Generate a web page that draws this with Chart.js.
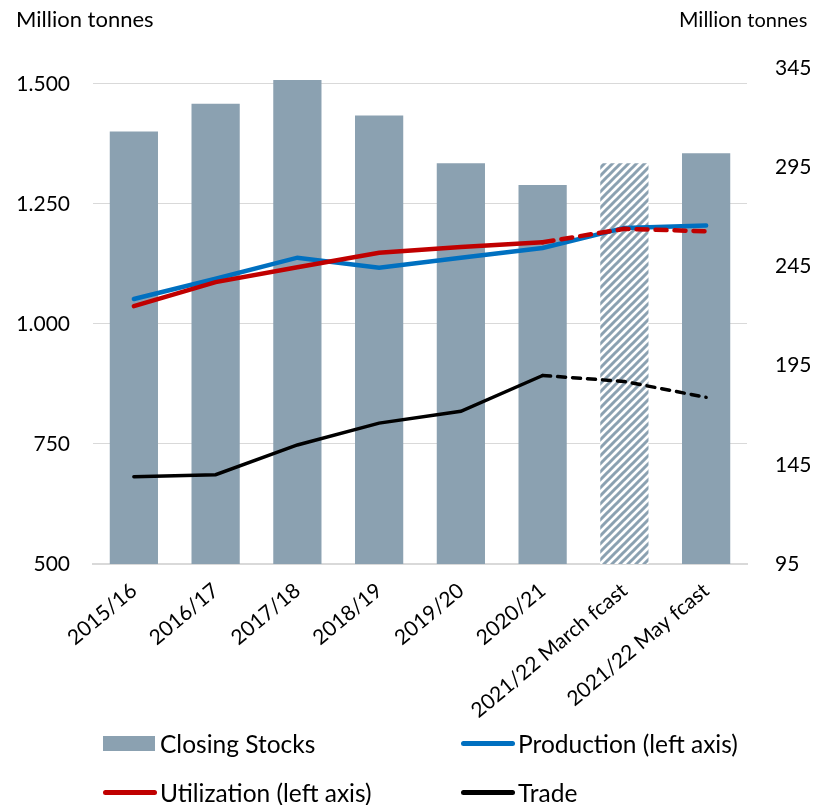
<!DOCTYPE html>
<html>
<head>
<meta charset="utf-8">
<script src="https://cdn.jsdelivr.net/npm/chart.js@4/dist/chart.umd.min.js"></script>
<style>
    body { margin: 0; background: #fff; font-family: Lato, 'Open Sans', sans-serif; color: #000; }
    #wrap { position: relative; width: 815px; height: 805px; }
    #chart { position: absolute; left: 0; top: 0; }
    .title { position: absolute; top: 5px; font-size: 22px; white-space: nowrap; }
    .legend-item { position: absolute; font-size: 24.5px; white-space: nowrap; line-height: 28px; }
    .legend-item .key { position: absolute; left: -57px; }
</style>
</head>
<body>
<div id="wrap">
    <canvas id="chart" width="815" height="805"></canvas>
    <div class="title" style="left:16px;">Million tonnes</div>
    <div class="title" style="left:679px; top:6px; font-size:21px;">Million <span style="font-size:20px;">tonnes</span></div>

    <div class="legend-item" style="left:160px; top:730px;"><span class="key" style="top:6px; width:52px; height:15px; background:#8ba1b1;"></span>Closing Stocks</div>
    <div class="legend-item" style="left:518px; top:730px;"><span class="key" style="top:11px; width:54px; height:5px; border-radius:3px; background:#0070c0;"></span>Production (left axis)</div>
    <div class="legend-item" style="left:160px; top:779px;"><span class="key" style="top:11px; width:54px; height:5px; border-radius:3px; background:#c00000;"></span>Utilization (left axis)</div>
    <div class="legend-item" style="left:518px; top:779px;"><span class="key" style="top:11px; width:54px; height:5px; border-radius:3px; background:#000;"></span>Trade</div>
</div>
<script>
// marketing years on the x axis
const seasons = ['2015/16', '2016/17', '2017/18', '2018/19', '2019/20', '2020/21', '2021/22 March fcast', '2021/22 May fcast'];

// right axis (million tonnes)
const closingStocks = [313, 327, 339, 321, 297, 286, 297, 302];
const trade = [139, 140, 155, 166, 172, 190, 187, 179];

// left axis (million tonnes)
const production = [1052, 1094, 1138, 1117, 1138, 1158, 1200, 1205];
const utilization = [1037, 1087, 1118, 1148, 1160, 1170, 1198, 1193];

const leftTicks = [500, 750, 1000, 1250, 1500];
const rightTicks = [95, 145, 195, 245, 295, 345];

const firstForecast = 5; // segments after 2020/21 are dashed

document.addEventListener('DOMContentLoaded', function() {
    const ctx = document.getElementById('chart').getContext('2d');
    const barColor = '#8ba1b1';

    // diagonal hatch for the March forecast bar
    function makeHatch() {
        const c = document.createElement('canvas');
        c.width = 8;
        c.height = 8;
        const p = c.getContext('2d');
        p.fillStyle = '#fff';
        p.fillRect(0, 0, 8, 8);
        p.strokeStyle = barColor;
        p.lineWidth = 3;
        p.beginPath();
        p.moveTo(-2, 10); p.lineTo(10, -2);
        p.moveTo(-6, 6); p.lineTo(6, -6);
        p.moveTo(2, 14); p.lineTo(14, 2);
        p.stroke();
        return ctx.createPattern(c, 'repeat');
    }
    const hatch = makeHatch();
    const barColors = closingStocks.map((v, i) => i === 6 ? hatch : barColor);

    function dashAfter(dash) {
        return c => c.p0DataIndex >= firstForecast ? dash : undefined;
    }

    function dotted(v) {
        return String(v).replace(/\B(?=(\d{3})+(?!\d))/g, '.');
    }

    const font = { family: 'Lato, "Open Sans", sans-serif', size: 21 };

    new Chart(ctx, {
        data: {
            labels: seasons,
            datasets: [
                {
                    type: 'line',
                    label: 'Utilization (left axis)',
                    data: utilization,
                    yAxisID: 'yLeft',
                    borderColor: '#c00000',
                    borderWidth: 4.5,
                    borderCapStyle: 'round',
                    pointRadius: 0,
                    tension: 0,
                    segment: { borderDash: dashAfter([11, 8]) },
                    order: 1
                },
                {
                    type: 'line',
                    label: 'Production (left axis)',
                    data: production,
                    yAxisID: 'yLeft',
                    borderColor: '#0070c0',
                    borderWidth: 4.5,
                    borderCapStyle: 'round',
                    pointRadius: 0,
                    tension: 0,
                    order: 2
                },
                {
                    type: 'line',
                    label: 'Trade',
                    data: trade,
                    yAxisID: 'yRight',
                    borderColor: '#000',
                    borderWidth: 3.5,
                    borderCapStyle: 'round',
                    pointRadius: 0,
                    tension: 0,
                    segment: { borderDash: dashAfter([8, 7]) },
                    order: 3
                },
                {
                    type: 'bar',
                    label: 'Closing Stocks',
                    data: closingStocks,
                    yAxisID: 'yRight',
                    backgroundColor: barColors,
                    barPercentage: 0.59,
                    categoryPercentage: 1,
                    order: 10
                }
            ]
        },
        options: {
            responsive: false,
            animation: false,
            layout: { padding: { top: 68 } },
            plugins: {
                legend: { display: false },
                tooltip: { enabled: false }
            },
            scales: {
                x: {
                    grid: { display: false },
                    border: { color: '#d9d9d9', width: 2 },
                    ticks: {
                        color: '#000',
                        font: font,
                        autoSkip: false,
                        minRotation: 40,
                        maxRotation: 40,
                        padding: 6
                    },
                    afterFit: s => { s.height = 241; }
                },
                yLeft: {
                    position: 'left',
                    min: 500,
                    max: 1533,
                    grid: { color: '#d9d9d9', drawTicks: false },
                    border: { display: false },
                    ticks: {
                        color: '#000',
                        font: font,
                        padding: 23,
                        callback: v => dotted(v)
                    },
                    afterBuildTicks: s => { s.ticks = leftTicks.map(v => ({ value: v })); },
                    afterFit: s => { s.width = 93; }
                },
                yRight: {
                    position: 'right',
                    min: 95,
                    max: 345,
                    grid: { display: false, drawTicks: false },
                    border: { display: false },
                    ticks: {
                        color: '#000',
                        font: font,
                        padding: 28
                    },
                    afterBuildTicks: s => { s.ticks = rightTicks.map(v => ({ value: v })); },
                    afterFit: s => { s.width = 68; }
                }
            }
        }
    });
});
</script>
</body>
</html>
